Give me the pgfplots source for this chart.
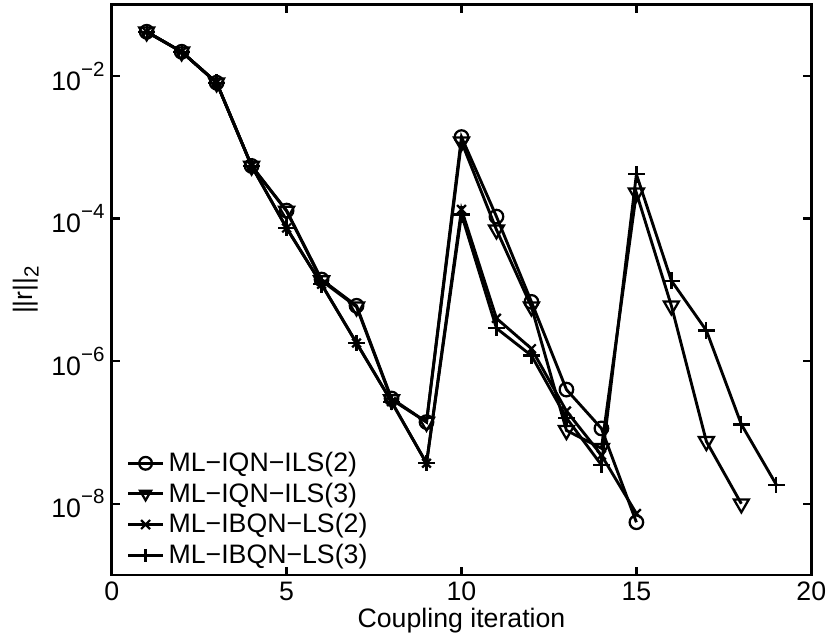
\documentclass[border=0pt]{standalone}
\usepackage{pgfplots}
\pgfplotsset{compat=1.18}
\usepackage{fontspec}
\setmainfont{Liberation Sans}
\newcommand{\ex}[1]{10\raisebox{7pt}{\fontsize{10}{10}\selectfont #1}}

\begin{document}
\begin{tikzpicture}
\begin{axis}[
    width=340.8pt, height=277.7pt, scale only axis,
    ymode=log,
    xmin=0, xmax=20, ymin=1e-9, ymax=1e-1,
    xtick={0,5,10,15,20},
    ytick={1e-8,1e-6,1e-4,1e-2},
    yticklabels={\ex{−8},\ex{−6},\ex{−4},\ex{−2}},
    /pgf/number format/assume math mode=true,
    yminorticks=false,
    tick align=inside,
    major tick length=4pt,
    every tick/.style={black, line width=1.2pt},
    axis line style={line width=1.4pt},
    tick label style={font=\fontsize{13}{15}\selectfont},
    xlabel={Coupling iteration},
    ylabel={||r||\raisebox{-3pt}{\fontsize{10}{10}\selectfont 2}},
    every axis x label/.style={at={(axis description cs:0.5,0)}, anchor=north, yshift=-12.5pt,
        font=\fontsize{13}{15}\selectfont},
    every axis y label/.style={at={(axis description cs:-0.1225,0.5)}, anchor=center, rotate=90,
        font=\fontsize{13}{15}\selectfont},
    legend style={at={(0.012,0.0)}, anchor=south west, draw=none, fill=none,
        font=\fontsize{13}{14.5}\selectfont},
    legend cell align=left,
    every legend image post/.style={mark size=3.1pt},
    every axis plot/.append style={black, line width=1.4pt},
]
\addplot[mark=o, mark size=3.3pt, mark options={line width=1.1pt}] coordinates {
(1,0.042)(2,0.022)(3,0.0081)(4,5.5e-4)(5,1.3e-4)(6,1.4e-5)(7,6e-6)(8,3e-7)
(9,1.4e-7)(10,1.4e-3)(11,1.07e-4)(12,6.8e-6)(13,4e-7)(14,1.14e-7)(15,5.5e-9)};
\addlegendentry{ML−IQN−ILS(2)}
\addplot[mark=triangle, mark size=4.2pt, mark options={rotate=180, line width=1.1pt}] coordinates {
(1,0.042)(2,0.022)(3,0.0081)(4,5.5e-4)(5,1.28e-4)(6,1.35e-5)(7,5.8e-6)(8,2.9e-7)
(9,1.4e-7)(10,1.2e-3)(11,7e-5)(12,5.8e-6)(13,1.07e-7)(14,6e-8)(15,2.3e-4)
(16,6e-6)(17,7.5e-8)(18,1.0e-8)};
\addlegendentry{ML−IQN−ILS(3)}
\addplot[mark=x, mark size=3pt, mark options={line width=1.1pt}] coordinates {
(1,0.042)(2,0.022)(3,0.0081)(4,5.5e-4)(5,7.4e-5)(6,1.2e-5)(7,1.8e-6)(8,2.7e-7)
(9,3.7e-8)(10,1.35e-4)(11,4e-6)(12,1.5e-6)(13,2e-7)(14,4.8e-8)(15,7.3e-9)};
\addlegendentry{ML−IBQN−LS(2)}
\addplot[mark=+, mark size=4pt, mark options={line width=1.1pt}] coordinates {
(1,0.042)(2,0.022)(3,0.0081)(4,5.5e-4)(5,7.4e-5)(6,1.2e-5)(7,1.8e-6)(8,2.7e-7)
(9,3.7e-8)(10,1.15e-4)(11,2.9e-6)(12,1.2e-6)(13,1.6e-7)(14,3.5e-8)(15,4.2e-4)
(16,1.35e-5)(17,2.7e-6)(18,1.3e-7)(19,1.85e-8)};
\addlegendentry{ML−IBQN−LS(3)}
\end{axis}
\path ([shift={(-54.4pt,-31.6pt)}]current axis.south west) rectangle ([shift={(9.2pt,2.4pt)}]current axis.north east);
\end{tikzpicture}
\end{document}
